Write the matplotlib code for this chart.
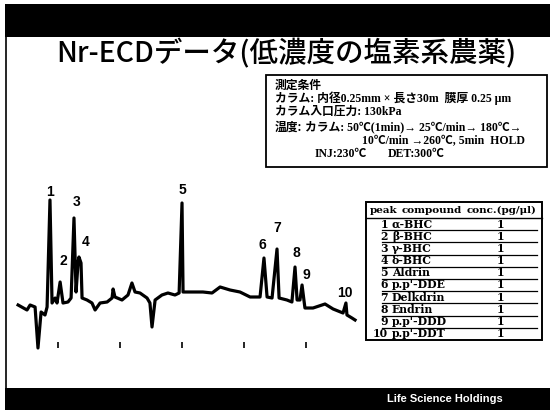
import matplotlib
matplotlib.use("Agg")
import matplotlib.pyplot as plt
from matplotlib.patches import Rectangle

# ---- chromatogram data (retention time in min, detector signal) ----
# sampled points of the trace between the peak apexes
trace_time = [1.07, 1.50, 1.65, 1.89, 2.03, 2.18, 2.37, 2.47, 2.71, 2.86, 2.95,
              3.24, 3.48, 3.63, 3.87, 3.97, 4.11, 4.16, 4.40, 4.64, 4.79, 5.03,
              5.37, 5.61, 5.66, 5.75, 6.09, 6.38, 6.57, 6.72, 6.96, 7.30, 7.44,
              7.54, 7.69, 8.02, 8.31, 8.65, 8.85, 9.04, 9.52, 10.00, 10.44,
              10.83, 11.31, 11.79, 12.28, 12.76, 13.10, 13.34, 13.68, 14.06,
              14.30, 14.55, 14.69, 14.88, 14.93, 15.32, 15.90, 16.29, 16.77,
              16.96, 17.20, 17.35]
trace_signal = [4.0, 3.5, 4.0, 3.8, -0.3, 3.3, 3.0, 3.8, 4.2, 4.7, 4.2,
                4.2, 4.3, 4.7, 5.3, 8.3, 8.2, 4.7, 4.5, 4.2, 3.5, 4.2,
                4.3, 4.7, 5.6, 4.8, 4.5, 5.0, 6.2, 5.3, 5.2, 4.7, 4.2,
                1.8, 4.5, 5.0, 5.2, 5.0, 5.2, 5.3, 5.3, 5.3, 5.2,
                5.8, 5.5, 5.3, 4.8, 4.8, 4.8, 4.7, 4.7, 4.5,
                4.3, 4.5, 4.5, 4.5, 3.7, 3.7, 4.1, 3.6, 3.2,
                3.0, 2.7, 2.5]

# peak apexes
peak_no = [1, 2, 3, 4, 5, 6, 7, 8, 9, 10]
peak_time = [2.61, 3.10, 3.77, 4.01, 8.99, 12.95, 13.58, 14.45, 14.79, 16.91]
peak_signal = [14.5, 6.3, 12.7, 8.8, 14.2, 8.7, 9.6, 7.8, 6.0, 4.2]

# time marks under the trace
tick_times = [3, 6, 9, 12, 15]

# ---- peak table ----
compounds = ["α-BHC", "β-BHC", "γ-BHC", "δ-BHC", "Aldrin",
             "p.p'-DDE", "Delkdrin", "Endrin", "p.p'-DDD", "p.p'-DDT"]
conc = [1, 1, 1, 1, 1, 1, 1, 1, 1, 1]

# ---- measurement conditions ----
title = "Nr-ECDデータ(低濃度の塩素系農薬)"
cond_head = "測定条件"
cond_column = "カラム: 内径0.25mm × 長さ30m  膜厚 0.25 μm"
cond_pressure = "カラム入口圧力: 130kPa"
cond_temp_head = "温度:"
cond_temp1 = "カラム: 50℃(1min)→ 25℃/min→ 180℃→"
cond_temp2 = "10℃/min →260℃, 5min  HOLD"
cond_inj = "INJ:230℃"
cond_det = "DET:300℃"
footer = "Life Science Holdings"

W, H = 550, 417
fig = plt.figure(figsize=(W / 100, H / 100), dpi=100)
fig.patch.set_facecolor("white")

# slide layer in pixel units
bg = fig.add_axes([0, 0, 1, 1])
bg.set_xlim(0, W)
bg.set_ylim(H, 0)
bg.axis("off")

# header / footer bands and left frame line
bg.add_patch(Rectangle((5, 4), 545, 33, facecolor="black", edgecolor="none"))
bg.add_patch(Rectangle((5, 388), 545, 22, facecolor="black", edgecolor="none"))
bg.plot([6, 6], [37, 388], color="black", lw=1.2)
bg.text(445, 399, footer, color="white", fontsize=8, weight="bold",
        family=["Liberation Sans"], ha="center", va="center")

CJK = ["Noto Sans CJK JP"]
SERIF_JP = ["Liberation Serif", "Noto Sans CJK JP"]

bg.text(286, 53, title, fontsize=20.5, family=CJK, weight="medium",
        ha="center", va="center")

# conditions box
bg.add_patch(Rectangle((266, 75), 281, 92, facecolor="white",
                       edgecolor="black", lw=1.3))
fs = 8.5
bg.text(275, 85, cond_head, fontsize=fs, family=CJK, weight="bold", va="center")
bg.text(275, 98, cond_column, fontsize=fs, family=SERIF_JP, weight="bold", va="center")
bg.text(275, 112, cond_pressure, fontsize=fs, family=SERIF_JP, weight="bold", va="center")
bg.text(275, 127, cond_temp_head, fontsize=fs, family=CJK, weight="bold", va="center")
bg.text(305, 127, cond_temp1, fontsize=fs, family=SERIF_JP, weight="bold", va="center")
bg.text(362, 141, cond_temp2, fontsize=fs, family=SERIF_JP, weight="bold", va="center")
bg.text(315, 154, cond_inj, fontsize=fs, family=SERIF_JP, weight="bold", va="center")
bg.text(388, 154, cond_det, fontsize=fs, family=SERIF_JP, weight="bold", va="center")

# peak table
TF = ["DejaVu Serif"]
bg.add_patch(Rectangle((366, 202), 176, 138, facecolor="white",
                       edgecolor="black", lw=1.4))
bg.text(370, 210, "peak", fontsize=7.5, family=TF, weight="bold", va="center")
bg.text(402, 210, "compound", fontsize=7.5, family=TF, weight="bold", va="center")
bg.text(467, 210, "conc.(pg/μl)", fontsize=7.5, family=TF, weight="bold", va="center")
bg.plot([366, 542], [218, 218], color="black", lw=1.0)
row_h = 12.2
for i, (n, name, c) in enumerate(zip(peak_no, compounds, conc)):
    top = 218 + row_h * i
    yc = top + 6.0
    bg.text(388, yc, str(n), fontsize=7.8, family=TF, weight="bold",
            ha="right", va="center")
    bg.text(392, yc, name, fontsize=7.8, family=TF, weight="bold", va="center")
    bg.text(500, yc, str(c), fontsize=7.8, family=TF, weight="bold",
            ha="center", va="center")
    if i < len(peak_no) - 1:
        bg.plot([382, 537], [top + row_h] * 2, color="black", lw=0.9)

# chromatogram
ax = fig.add_axes([15 / W, 1 - 360 / H, 345 / W, 175 / H])
ax.patch.set_alpha(0)
ax.set_xlim(0.92, 17.59)
ax.set_ylim(-1.5, 16.0)
ax.axis("off")

pts = sorted(zip(trace_time + peak_time, trace_signal + peak_signal))
t_all = [p[0] for p in pts]
s_all = [p[1] for p in pts]
ax.plot(t_all, s_all, color="black", lw=2.3, solid_joinstyle="round")
ax.vlines(tick_times, -0.3, 0.3, color="black", lw=1.2)

label_offsets = {1: (0, 8), 2: (3, 21), 3: (3, 16), 4: (7, 15), 5: (0, 13),
                 6: (-2, 13), 7: (0, 21), 8: (1, 14), 9: (4, 10), 10: (-1, 10)}
for n, t, s in zip(peak_no, peak_time, peak_signal):
    dx, dy = label_offsets[n]
    ax.annotate(str(n), xy=(t, s), xytext=(dx * 0.72, dy * 0.72),
                textcoords="offset points", ha="center", va="center",
                fontsize=10, weight="bold", family=["Liberation Sans"])

fig.savefig("out.png", dpi=100)
